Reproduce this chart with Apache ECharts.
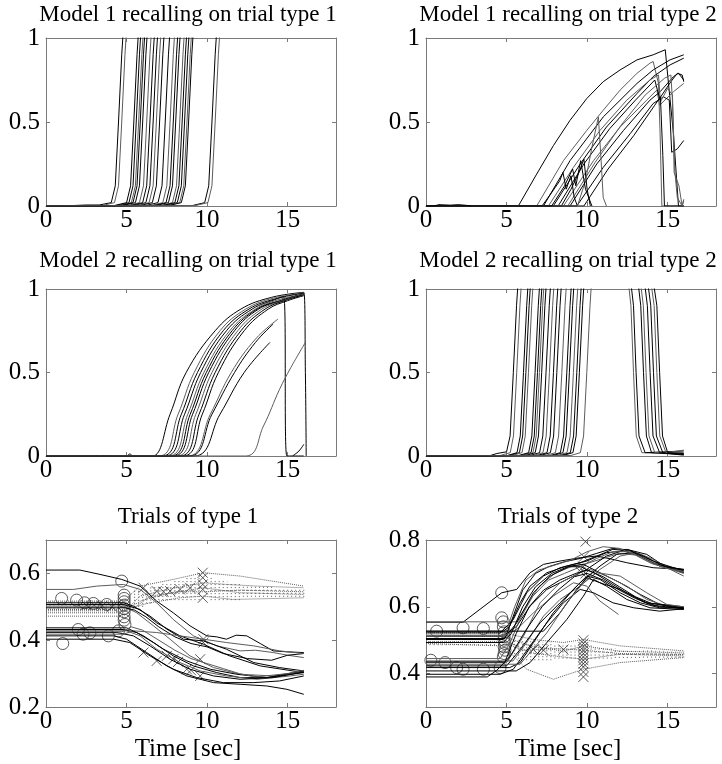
<!DOCTYPE html>
<html><head><meta charset="utf-8">
<script src="https://cdn.jsdelivr.net/npm/echarts@6/dist/echarts.min.js"></script>
<style>html,body{margin:0;padding:0;background:#fff}#c{width:722px;height:764px}</style>
</head><body><div id="c"></div><script>
// ---------- text ----------
const panelTitles = ['Model 1 recalling on trial type 1','Model 1 recalling on trial type 2',
  'Model 2 recalling on trial type 1','Model 2 recalling on trial type 2','Trials of type 1','Trials of type 2'];
const xAxisTitle = 'Time [sec]';
// ---------- ticks ----------
const xTicks = [0,5,10,15];
const yTicksModel = [0,0.5,1];
const yTicksTrials1 = [0.2,0.4,0.6];
const yTicksTrials2 = [0.4,0.6,0.8];

// ---------- Model 1, trial type 1 ----------
const m1t1 = [
 [[0,0],[1.5,0.002],[2.5,0.006],[3.3,0.006],[4.05,0.02],[4.3,0.12],[4.5,0.5],[4.7,0.9],[4.8,1.05]],
 [[0,0],[3.5,0.003],[4.25,0.02],[4.5,0.12],[4.7,0.5],[4.9,0.9],[5.0,1.05]],
 [[0,0],[4.25,0.003],[5.0,0.02],[5.25,0.12],[5.45,0.5],[5.65,0.9],[5.75,1.05]],
 [[0,0],[4.4,0.003],[5.15,0.02],[5.4,0.12],[5.6,0.5],[5.8,0.9],[5.9,1.05]],
 [[0,0],[4.55,0.003],[5.3,0.02],[5.55,0.12],[5.75,0.5],[5.95,0.9],[6.05,1.05]],
 [[0,0],[4.65,0.003],[5.4,0.02],[5.65,0.12],[5.85,0.5],[6.05,0.9],[6.15,1.05]],
 [[0,0],[4.8,0.003],[5.55,0.02],[5.8,0.12],[6.0,0.5],[6.2,0.9],[6.3,1.05]],
 [[0,0],[5.05,0.003],[5.8,0.02],[6.05,0.12],[6.25,0.5],[6.45,0.9],[6.55,1.05]],
 [[0,0],[5.25,0.003],[6.0,0.02],[6.25,0.12],[6.45,0.5],[6.65,0.9],[6.75,1.05]],
 [[0,0],[5.45,0.003],[6.2,0.02],[6.45,0.12],[6.65,0.5],[6.85,0.9],[6.95,1.05]],
 [[0,0],[5.65,0.003],[6.4,0.02],[6.65,0.12],[6.85,0.5],[7.05,0.9],[7.15,1.05]],
 [[0,0],[5.85,0.003],[6.6,0.02],[6.85,0.12],[7.05,0.5],[7.25,0.9],[7.35,1.05]],
 [[0,0],[6.2,0.003],[6.95,0.02],[7.2,0.12],[7.4,0.5],[7.6,0.9],[7.7,1.05]],
 [[0,0],[6.5,0.003],[7.25,0.02],[7.5,0.12],[7.7,0.5],[7.9,0.9],[8.0,1.05]],
 [[0,0],[6.7,0.003],[7.45,0.02],[7.7,0.12],[7.9,0.5],[8.1,0.9],[8.2,1.05]],
 [[0,0],[6.85,0.003],[7.6,0.02],[7.85,0.12],[8.05,0.5],[8.25,0.9],[8.35,1.05]],
 [[0,0],[7.1,0.003],[7.85,0.02],[8.1,0.12],[8.3,0.5],[8.5,0.9],[8.6,1.05]],
 [[0,0],[7.25,0.003],[8.0,0.02],[8.25,0.12],[8.45,0.5],[8.65,0.9],[8.75,1.05]],
 [[0,0],[7.4,0.003],[8.15,0.02],[8.4,0.12],[8.6,0.5],[8.8,0.9],[8.9,1.05]],
 [[0,0],[7.55,0.003],[8.3,0.02],[8.55,0.12],[8.75,0.5],[8.95,0.9],[9.05,1.05]],
 [[0,0],[7.65,0.003],[8.4,0.02],[8.65,0.12],[8.85,0.5],[9.05,0.9],[9.15,1.05]],
 [[0,0],[9.1,0.003],[9.85,0.02],[10.1,0.12],[10.3,0.5],[10.5,0.9],[10.6,1.05]],
 [[0,0],[9.3,0.003],[10.05,0.02],[10.3,0.12],[10.5,0.5],[10.7,0.9],[10.8,1.05]]
];

// ---------- Model 1, trial type 2 ----------
const m1t2 = [
 [[0,0],[5.73,0],[6.87,0.19],[7.91,0.36],[8.94,0.51],[9.98,0.64],[11.0,0.74],[12.05,0.81],[13.1,0.87],[14.1,0.9],[14.85,0.93],[15.05,0.73],[15.36,0.43],[15.67,0],[16,0]],
 [[0,0],[6.87,0],[8.53,0.27],[9.98,0.45],[11.0,0.57],[12.05,0.69],[13.1,0.79],[13.9,0.85],[14.1,0.86],[14.43,0.73],[14.53,0.43],[14.64,0],[16,0]],
 [[0,0],[7.29,0],[8.94,0.27],[11.0,0.53],[13.1,0.73],[14.1,0.81],[15.15,0.87],[16,0.9]],
 [[0,0],[7.9,0],[9.57,0.25],[11.2,0.47],[13.1,0.67],[14.1,0.77],[15.15,0.84],[16,0.88]],
 [[0,0],[8.53,0],[10.4,0.27],[12.05,0.47],[13.7,0.63],[14.33,0.69],[14.5,0.6],[15.36,0.68],[16,0.73]],
 [[0,0],[8.94,0],[10.6,0.25],[12.26,0.45],[13.9,0.63],[14.53,0.68],[15.36,0.77],[15.67,0.79],[16,0.75]],
 [[0,0],[9.36,0],[11.0,0.23],[12.67,0.43],[14.1,0.61],[14.74,0.65],[15.1,0.63],[15.25,0.32],[15.6,0.34],[16.0,0.39]],
 [[0,0],[7.6,0],[9.15,0.23],[10.8,0.45],[12.46,0.63],[13.9,0.75],[14.43,0.78],[14.55,0.62],[15.0,0.7],[15.3,0.66],[15.4,0.2],[15.7,0.12],[15.9,0],[16,0.03]],
 [[0,0],[8.2,0],[9.8,0.25],[11.4,0.46],[13.0,0.63],[14.2,0.75],[14.5,0.64],[15.2,0.74],[15.6,0.79],[15.9,0.78],[16,0.74]],
 [[0,0],[9.8,0],[11.3,0.22],[12.9,0.42],[14.2,0.6],[14.55,0.65],[14.7,0.3],[14.8,0],[16,0]],
 [[0,0],[8.8,0],[10.5,0.26],[12.1,0.48],[13.6,0.66],[14.8,0.76],[15.2,0.78],[15.3,0.62],[15.45,0.2],[15.6,0.05],[15.9,0],[16,0.04]],
 [[0,0],[7.2,0],[7.8,0.08],[8.3,0.15],[8.5,0.2],[8.7,0.1],[9.0,0.18],[9.2,0.05],[9.4,0]],
 [[0,0],[8.4,0],[9.0,0.1],[9.5,0.2],[9.8,0.28],[10.0,0.1],[10.2,0]],
 [[0,0],[9.4,0],[9.9,0.15],[10.3,0.35],[10.7,0.53],[10.85,0.3],[11.0,0.05],[11.2,0]],
 [[0,0],[7.8,0],[8.6,0.12],[9.1,0.22],[9.3,0.12],[9.6,0.27],[9.9,0.1],[10.3,0]],
 [[0,0],[0.5,0],[0.8,0.008],[1.5,0.005],[2.0,0.008],[2.5,0.004],[2.8,0]]
];

// ---------- Model 2, trial type 1 ----------
const m2t1 = [
 [[0,0],[5.0,0],[5.2,0.012],[5.4,0],[6.6,0],[7.7,0.25],[8.7,0.5],[10.5,0.75],[12.1,0.88],[14.0,0.95],[16,0.98],[16.1,0.5],[16.15,0]],
 [[0,0],[7.0,0],[8.2,0.25],[9.2,0.5],[10.8,0.75],[12.4,0.88],[14.1,0.945],[16,0.975]],
 [[0,0],[7.2,0],[8.4,0.25],[9.4,0.5],[11.0,0.75],[12.6,0.88],[14.2,0.94],[16,0.975]],
 [[0,0],[7.4,0],[8.6,0.25],[9.6,0.5],[11.2,0.75],[12.8,0.88],[14.3,0.94],[14.75,0.955],[14.95,0],[16,0]],
 [[0,0],[7.6,0],[8.8,0.25],[9.8,0.5],[11.4,0.75],[13.0,0.88],[14.4,0.935],[16,0.97]],
 [[0,0],[7.75,0],[8.95,0.25],[9.95,0.5],[11.55,0.75],[13.1,0.88],[14.5,0.93],[16,0.97]],
 [[0,0],[7.9,0],[9.1,0.25],[10.1,0.5],[11.7,0.75],[13.2,0.88],[14.6,0.93],[16,0.97]],
 [[0,0],[8.1,0],[9.3,0.25],[10.3,0.5],[11.9,0.75],[13.4,0.88],[14.7,0.93],[16,0.97]],
 [[0,0],[8.3,0],[9.5,0.25],[10.5,0.5],[12.1,0.75],[13.6,0.88],[14.8,0.93],[16,0.965]],
 [[0,0],[8.5,0],[9.7,0.25],[10.7,0.5],[12.3,0.75],[13.8,0.88],[15.0,0.93],[16,0.96]],
 [[0,0],[8.8,0],[10.2,0.25],[11.5,0.5],[13.0,0.7],[14.4,0.82]],
 [[0,0],[9.2,0],[10.8,0.25],[12.3,0.5],[13.9,0.68]],
 [[0,0],[8.9,0],[10.3,0.25],[11.7,0.5],[13.0,0.68],[14.1,0.79]],
 [[0,0],[12.4,0],[13.5,0.18],[14.5,0.4],[15.2,0.53],[16.1,0.68]],
 [[15.3,0],[15.7,0.03],[16,0.07]]
];

// ---------- Model 2, trial type 2 ----------
const m2t2 = [
 [[0,0],[3.9,0],[4.4,0.015],[5.0,0.025],[5.22,0.12],[5.42,0.5],[5.62,0.9],[5.72,1.05],[16,1.05]],
 [[0,0],[4.6,0.003],[5.23,0.02],[5.43,0.12],[5.63,0.5],[5.83,0.9],[5.93,1.05],[12.55,1.05],[12.72,0.9],[12.88,0.5],[13.05,0.12],[13.4,0.02],[16,0.01]],
 [[0,0],[5.05,0.003],[5.65,0.02],[5.85,0.12],[6.05,0.5],[6.25,0.9],[6.35,1.05],[16,1.05]],
 [[0,0],[5.2,0.003],[5.8,0.02],[6.0,0.12],[6.2,0.5],[6.4,0.9],[6.5,1.05],[12.7,1.05],[12.88,0.9],[13.04,0.5],[13.22,0.12],[13.6,0.02],[16,0.03]],
 [[0,0],[5.35,0.003],[5.96,0.02],[6.16,0.12],[6.36,0.5],[6.56,0.9],[6.66,1.05],[16,1.05]],
 [[0,0],[5.75,0.003],[6.37,0.02],[6.57,0.12],[6.77,0.5],[6.97,0.9],[7.07,1.05],[13.15,1.05],[13.33,0.9],[13.5,0.5],[13.68,0.12],[14.0,0.02],[16,0.01]],
 [[0,0],[5.9,0.003],[6.52,0.02],[6.72,0.12],[6.92,0.5],[7.12,0.9],[7.22,1.05],[16,1.05]],
 [[0,0],[6.0,0.003],[6.64,0.02],[6.84,0.12],[7.04,0.5],[7.24,0.9],[7.34,1.05],[13.3,1.05],[13.49,0.9],[13.66,0.5],[13.84,0.12],[14.2,0.02],[16,0.02]],
 [[0,0],[6.2,0.003],[6.78,0.02],[6.98,0.12],[7.18,0.5],[7.38,0.9],[7.48,1.05],[16,1.05]],
 [[0,0],[6.45,0.003],[7.05,0.02],[7.25,0.12],[7.45,0.5],[7.65,0.9],[7.75,1.05],[13.55,1.05],[13.74,0.9],[13.91,0.5],[14.09,0.12],[14.5,0.02],[16,0.005]],
 [[0,0],[6.65,0.003],[7.26,0.02],[7.46,0.12],[7.66,0.5],[7.86,0.9],[7.96,1.05],[16,1.05]],
 [[0,0],[6.9,0.003],[7.51,0.02],[7.71,0.12],[7.91,0.5],[8.11,0.9],[8.21,1.05],[13.75,1.05],[13.95,0.9],[14.12,0.5],[14.3,0.12],[14.7,0.02],[16,0.01]],
 [[0,0],[7.1,0.003],[7.72,0.02],[7.92,0.12],[8.12,0.5],[8.32,0.9],[8.42,1.05],[16,1.05]],
 [[0,0],[7.4,0.003],[8.03,0.02],[8.23,0.12],[8.43,0.5],[8.63,0.9],[8.73,1.05],[13.95,1.05],[14.16,0.9],[14.33,0.5],[14.51,0.12],[14.9,0.02],[16,0.035]],
 [[0,0],[7.7,0.003],[8.34,0.02],[8.54,0.12],[8.74,0.5],[8.94,0.9],[9.04,1.05],[16,1.05]],
 [[0,0],[7.9,0.003],[8.5,0.02],[8.7,0.12],[8.9,0.5],[9.1,0.9],[9.2,1.05],[14.1,1.05],[14.33,0.9],[14.5,0.5],[14.68,0.12],[15.0,0.02],[16,0.015]],
 [[0,0],[8.15,0.003],[8.75,0.02],[8.95,0.12],[9.15,0.5],[9.35,0.9],[9.45,1.05],[16,1.05]],
 [[0,0],[8.35,0.003],[8.96,0.02],[9.16,0.12],[9.36,0.5],[9.56,0.9],[9.66,1.05],[16,1.05]],
 [[0,0],[8.5,0.003],[9.12,0.02],[9.32,0.12],[9.52,0.5],[9.72,0.9],[9.82,1.05],[16,1.05]],
 [[0,0],[9.0,0.003],[9.58,0.02],[9.78,0.12],[9.98,0.5],[10.18,0.9],[10.28,1.05],[16,1.05]]
];

// ---------- Trials of type 1 ----------
const t1Solid = [
 [[0,0.61],[2.1,0.61],[3.35,0.597],[4.7,0.582],[5.84,0.562],[6.87,0.517],[7.9,0.482],[8.94,0.443],[9.98,0.413],[10.6,0.41],[11.2,0.403],[11.8,0.415],[12.46,0.413],[13.3,0.39],[14.1,0.368],[15,0.365],[16,0.363]],
 [[0,0.552],[1.7,0.552],[3.15,0.562],[4.8,0.567],[5.84,0.552],[6.87,0.512],[7.9,0.462],[9.15,0.413],[10.6,0.383],[12.05,0.368],[13,0.37],[14.1,0.363],[15,0.355],[16,0.348]],
 [[0,0.512],[4.8,0.512],[5.42,0.502],[6.46,0.472],[7.5,0.433],[8.53,0.403],[9.77,0.398],[11.2,0.373],[12.9,0.333],[14.5,0.318],[16,0.308]],
 [[0,0.507],[4.8,0.507],[5.84,0.492],[6.87,0.452],[8.32,0.413],[9.77,0.388],[11.4,0.353],[13.3,0.323],[16,0.303]],
 [[0,0.502],[4.8,0.502],[5.63,0.482],[6.67,0.443],[7.7,0.403],[8.94,0.353],[10.4,0.318],[12.05,0.298],[14.1,0.293],[16,0.308]],
 [[0,0.497],[4.9,0.497],[5.5,0.49],[6.2,0.47],[7.0,0.44],[8.0,0.41],[9.0,0.39],[10.0,0.38],[11.0,0.36],[12.5,0.345],[14,0.34],[15,0.355],[16,0.36]],
 [[0,0.432],[4.8,0.432],[5.63,0.423],[6.67,0.393],[7.9,0.353],[9.15,0.323],[10.6,0.303],[12.05,0.288],[13.7,0.288],[16,0.303]],
 [[0,0.428],[5.0,0.428],[5.84,0.413],[6.87,0.373],[8.32,0.333],[9.57,0.308],[11.2,0.293],[13.1,0.283],[15.15,0.293],[16,0.298]],
 [[0,0.423],[4.4,0.423],[5.42,0.413],[6.46,0.383],[7.7,0.343],[8.94,0.313],[10.4,0.293],[12.05,0.283],[14.1,0.288],[16,0.305]],
 [[0,0.413],[4.2,0.413],[5.0,0.403],[6.25,0.363],[7.5,0.323],[8.74,0.293],[10.4,0.273],[12.05,0.268],[13.7,0.263],[14.95,0.253],[16,0.238]],
 [[0,0.418],[4.8,0.418],[5.42,0.428],[6.87,0.423],[8.32,0.413],[9.77,0.403],[11.2,0.393],[12.9,0.383],[14.5,0.368],[16,0.36]],
 [[0,0.403],[4.2,0.403],[5.2,0.393],[6.46,0.353],[7.9,0.313],[9.36,0.288],[11.0,0.273],[12.9,0.273],[14.5,0.278],[16,0.293]],
 [[0,0.437],[5.0,0.437],[6.05,0.413],[7.29,0.373],[8.74,0.338],[10.2,0.313],[11.84,0.298],[13.7,0.288],[16,0.308]],
 [[0,0.425],[4.7,0.425],[5.3,0.44],[6.0,0.43],[7.0,0.4],[8.0,0.37],[9.0,0.345],[10.0,0.33],[11,0.315],[12,0.3],[13,0.29],[14,0.295],[15,0.3],[16,0.31]]
];
const t1Dotted = [
 [[0,0.482],[4.8,0.482],[5.84,0.532],[7.5,0.552],[9.77,0.572],[11.2,0.567],[13.1,0.562],[16,0.557]],
 [[0,0.472],[4.8,0.472],[6.46,0.532],[7.9,0.542],[9.77,0.557],[12.05,0.542],[16,0.537]],
 [[0,0.492],[4.8,0.492],[6.46,0.512],[8.32,0.527],[9.77,0.532],[11.6,0.522],[16,0.527]],
 [[0,0.517],[4.8,0.517],[5.84,0.562],[7.9,0.582],[9.77,0.602],[12.05,0.592],[16,0.562]],
 [[0,0.488],[4.8,0.488],[6.0,0.52],[8.0,0.545],[9.77,0.545],[12,0.55],[16,0.545]]
];
const t1Hatch = [
 [0.25,0.495,0.52],[0.5,0.495,0.52],[0.75,0.495,0.52],[1.0,0.495,0.52],[1.25,0.495,0.52],[1.5,0.495,0.52],[1.75,0.495,0.52],
 [2.0,0.495,0.52],[2.25,0.495,0.52],[2.5,0.495,0.52],[2.75,0.495,0.52],[3.0,0.495,0.52],[3.25,0.495,0.52],[3.5,0.495,0.52],
 [3.75,0.495,0.52],[4.0,0.495,0.52],[4.25,0.495,0.52],[4.5,0.495,0.52],
 [5.5,0.5,0.55],[5.75,0.5,0.55],[6.0,0.5,0.55],[6.25,0.51,0.55],[6.5,0.51,0.56],[6.75,0.52,0.56],[7.0,0.52,0.56],
 [7.25,0.52,0.57],[7.5,0.52,0.57],[7.75,0.52,0.57],[8.0,0.52,0.58],[8.25,0.52,0.58],[8.5,0.52,0.58],[8.75,0.52,0.59],
 [9.0,0.52,0.59],[9.25,0.52,0.59],[9.5,0.52,0.6],[10.25,0.52,0.59],[10.5,0.52,0.58],[10.75,0.52,0.58],[11.0,0.52,0.58],
 [11.25,0.52,0.575],[11.5,0.52,0.57],[11.75,0.52,0.57],[12.0,0.52,0.57],[12.25,0.53,0.565],[12.5,0.53,0.565],
 [12.75,0.53,0.56],[13.0,0.53,0.56],[13.25,0.53,0.56],[13.5,0.53,0.56],[13.75,0.53,0.56],[14.0,0.53,0.56],
 [14.25,0.53,0.555],[14.5,0.53,0.555],[14.75,0.53,0.555],[15.0,0.53,0.555],[15.25,0.53,0.555],[15.5,0.53,0.555],
 [15.75,0.53,0.555],[16.0,0.53,0.555]
];
const t1Circles = [
 [0.97,0.525],[1.9,0.52],[2.4,0.512],[2.94,0.51],[3.77,0.507],[4.7,0.577],[4.85,0.535],[4.85,0.525],[4.85,0.515],
 [4.85,0.505],[4.85,0.495],[4.85,0.485],[4.85,0.47],[4.85,0.46],[1.04,0.39],[2.0,0.432],[2.3,0.418],[2.73,0.422],
 [3.87,0.413],[4.5,0.428],[4.9,0.447]
];
const t1Crosses = [
 [2.5,0.505],[3.0,0.505],[3.5,0.503],[4.1,0.5],
 [6.05,0.557],[6.87,0.547],[7.3,0.545],[7.7,0.547],[8.32,0.552],[8.94,0.557],[9.73,0.602],[9.73,0.587],[9.73,0.567],
 [9.73,0.552],[9.73,0.527],[6.05,0.363],[6.87,0.338],[7.5,0.353],[7.9,0.343],[8.74,0.313],[9.57,0.293],[9.77,0.403],
 [9.77,0.393],[9.57,0.343],[8.2,0.335],[9.0,0.31]
];

// ---------- Trials of type 2 ----------
const t2Solid = [
 [[0,0.554],[2.3,0.554],[4.7,0.642],[5.63,0.652],[6.46,0.702],[7.29,0.727],[8.32,0.737],[9.57,0.747],[10.6,0.752],[11.6,0.742],[12.46,0.732],[14.1,0.717],[16,0.712]],
 [[0,0.555],[5.6,0.555],[6.2,0.6],[7,0.66],[8,0.7],[9,0.72],[10,0.73],[11,0.745],[12,0.76],[13,0.755],[14,0.73],[15,0.715],[16,0.71]],
 [[0,0.527],[4.8,0.527],[5.2,0.542],[5.84,0.612],[6.46,0.662],[7.5,0.702],[8.74,0.722],[9.98,0.737],[11.2,0.762],[12.26,0.767],[13.3,0.752],[14.5,0.722],[16,0.712]],
 [[0,0.512],[4.8,0.512],[5.63,0.542],[6.46,0.602],[7.5,0.652],[8.74,0.682],[9.98,0.712],[11.2,0.752],[12.46,0.772],[13.7,0.757],[14.95,0.717],[16,0.704]],
 [[0,0.438],[5.4,0.438],[6.25,0.493],[7.29,0.572],[8.32,0.622],[9.57,0.662],[10.8,0.712],[12.05,0.752],[13.1,0.762],[14.1,0.742],[15.36,0.707],[16,0.692]],
 [[0,0.423],[5.0,0.423],[5.84,0.472],[7.08,0.552],[8.32,0.612],[9.57,0.672],[10.8,0.722],[11.84,0.757],[12.88,0.762],[14.1,0.732],[16,0.702]],
 [[0,0.522],[4.6,0.522],[5.42,0.562],[6.25,0.642],[7.29,0.692],[8.32,0.717],[9.57,0.732],[10.6,0.752],[11.6,0.772],[12.67,0.767],[14.1,0.737],[16,0.707]],
 [[0,0.445],[4.6,0.445],[5.2,0.49],[5.8,0.56],[6.6,0.63],[7.6,0.68],[8.6,0.7],[9.6,0.72],[10.6,0.745],[11.6,0.765],[12.6,0.765],[13.6,0.745],[14.6,0.72],[16,0.7]],
 [[0,0.505],[4.9,0.505],[5.4,0.57],[6.0,0.65],[6.8,0.7],[7.6,0.72],[8.6,0.735],[9.6,0.745],[10.6,0.76],[11.6,0.775],[12.6,0.77],[13.6,0.75],[14.6,0.725],[16,0.71]],
 [[0,0.502],[4.8,0.502],[5.63,0.552],[6.67,0.642],[7.7,0.692],[8.94,0.722],[9.77,0.727],[10.8,0.702],[12.05,0.672],[13.3,0.637],[14.5,0.607],[16,0.597]],
 [[0,0.433],[5.0,0.433],[6.05,0.512],[7.08,0.612],[8.32,0.672],[9.57,0.702],[10.2,0.712],[11.2,0.692],[12.46,0.662],[13.7,0.622],[14.95,0.602],[16,0.594]],
 [[0,0.418],[5.2,0.418],[5.84,0.433],[6.67,0.493],[7.9,0.582],[9.15,0.652],[9.98,0.692],[10.8,0.682],[12.05,0.642],[13.3,0.612],[14.5,0.597],[16,0.597]],
 [[0,0.408],[5.6,0.408],[6.46,0.433],[7.5,0.493],[8.74,0.562],[9.77,0.632],[10.4,0.682],[11.2,0.662],[12.46,0.622],[13.9,0.597],[16,0.592]],
 [[0,0.512],[4.8,0.512],[5.63,0.532],[6.67,0.582],[7.9,0.632],[9.15,0.672],[9.98,0.662],[10.8,0.617],[11.95,0.577]],
 [[0,0.398],[4.6,0.398],[5.42,0.413],[6.46,0.483],[7.5,0.552],[8.53,0.612],[9.57,0.652],[10.4,0.642],[11.6,0.612],[12.9,0.597],[14.5,0.587],[16,0.594]],
 [[0,0.527],[7.29,0.527],[8.32,0.582],[9.36,0.652],[9.98,0.687],[10.8,0.672],[12.05,0.652],[13.7,0.612],[16,0.6]],
 [[0,0.428],[5.1,0.428],[5.84,0.428],[7.5,0.522],[8.74,0.612],[9.77,0.672],[10.6,0.702],[12.05,0.692],[13.7,0.642],[14.95,0.607],[16,0.6]],
 [[0,0.493],[4.8,0.493],[5.3,0.52],[6.0,0.6],[6.8,0.66],[7.8,0.7],[8.8,0.72],[9.6,0.72],[10.5,0.7],[11.5,0.67],[12.5,0.64],[13.5,0.615],[14.5,0.6],[16,0.596]],
 [[0,0.39],[3.8,0.39],[4.4,0.41],[5.2,0.45],[6.2,0.53],[7.2,0.6],[8.2,0.65],[9.2,0.69],[10,0.7],[11,0.68],[12,0.65],[13,0.625],[14,0.605],[16,0.594]],
 [[0,0.515],[4.9,0.515],[5.5,0.6],[6.2,0.68],[7.0,0.71],[8.0,0.725],[9.0,0.74],[10.0,0.765],[11.0,0.78],[12.0,0.775],[13.0,0.755],[14.0,0.73],[15.0,0.715],[16,0.705]],
 [[0,0.435],[4.9,0.435],[5.6,0.52],[6.4,0.6],[7.3,0.65],[8.3,0.68],[9.3,0.7],[10.0,0.71],[11.0,0.69],[12.0,0.66],[13.0,0.63],[14.0,0.61],[16,0.595]]
];
const t2Dotted = [
 [[0,0.512],[4.8,0.512],[6.46,0.483],[8.53,0.467],[9.77,0.483],[12.05,0.467],[16,0.462]],
 [[0,0.502],[4.8,0.502],[6.46,0.463],[7.9,0.453],[9.77,0.443],[12.05,0.458],[16,0.453]],
 [[0,0.49],[4.8,0.483],[6.25,0.413],[7.9,0.383],[9.77,0.413],[12.05,0.433],[16,0.448]],
 [[0,0.522],[4.8,0.522],[6.67,0.502],[8.53,0.493],[9.77,0.502],[12.05,0.483],[16,0.468]],
 [[0,0.495],[4.8,0.495],[6.0,0.47],[8.0,0.475],[9.8,0.47],[12,0.46],[16,0.457]]
];
const t2Hatch = [
 [0.25,0.485,0.53],[0.5,0.485,0.53],[0.75,0.485,0.53],[1.0,0.485,0.53],[1.25,0.485,0.53],[1.5,0.485,0.53],[1.75,0.485,0.53],
 [2.0,0.485,0.53],[2.25,0.485,0.53],[2.5,0.485,0.53],[2.75,0.485,0.53],[3.0,0.485,0.53],[3.25,0.485,0.53],[3.5,0.485,0.53],
 [3.75,0.485,0.53],[4.0,0.485,0.53],[4.25,0.485,0.53],[4.5,0.485,0.53],
 [5.5,0.45,0.5],[5.75,0.445,0.5],[6.0,0.44,0.5],[6.25,0.44,0.5],[6.5,0.44,0.5],[6.75,0.44,0.5],[7.0,0.44,0.5],
 [7.25,0.44,0.495],[7.5,0.44,0.495],[7.75,0.44,0.495],[8.0,0.445,0.49],[8.25,0.445,0.49],[8.5,0.445,0.49],
 [8.75,0.445,0.49],[9.0,0.445,0.49],[9.25,0.445,0.49],[9.5,0.44,0.495],[9.75,0.42,0.5],[10.0,0.44,0.49],
 [10.25,0.445,0.485],[10.5,0.445,0.48],[10.75,0.445,0.48],[11.0,0.445,0.48],[11.25,0.445,0.478],[11.5,0.445,0.475],
 [11.75,0.447,0.475],[12.0,0.447,0.473],[12.25,0.447,0.472],[12.5,0.447,0.472],[12.75,0.447,0.471],[13.0,0.447,0.47],
 [13.25,0.447,0.47],[13.5,0.448,0.47],[13.75,0.448,0.469],[14.0,0.448,0.469],[14.25,0.448,0.468],[14.5,0.448,0.468],
 [14.75,0.448,0.468],[15.0,0.448,0.467],[15.25,0.448,0.467],[15.5,0.448,0.467],[15.75,0.448,0.467],[16.0,0.448,0.467]
];
const t2Circles = [
 [0.66,0.527],[2.3,0.537],[3.56,0.535],[4.7,0.642],[4.7,0.567],[2.3,0.413],[3.56,0.413],[4.6,0.418],[1.18,0.433],
 [1.9,0.418],[4.8,0.555],[4.8,0.54],[4.85,0.525],[4.85,0.51],[4.85,0.5],[4.9,0.49],[4.85,0.48],[4.9,0.47],
 [4.85,0.46],[4.8,0.45],[0.3,0.44]
];
const t2Crosses = [
 [9.77,0.5],[9.77,0.49],[9.77,0.48],[9.77,0.47],[9.77,0.46],[9.77,0.45],[9.77,0.44],[9.77,0.43],[9.77,0.42],
 [9.77,0.405],[9.77,0.39],[8.53,0.472],[6.67,0.472],[7.3,0.47],[9.9,0.795],[9.8,0.75],[9.75,0.72],[9.9,0.7],
 [10.1,0.69],[9.6,0.705]
];

// ---------- layout / styling ----------
const FONT = '"Liberation Serif", "Times New Roman", serif';
const GRAY = '#5c5c5c';
const AXIS = '#7a7a7a';
const grids = [
 {left:46, top:38, width:290, height:168},
 {left:426, top:38, width:290, height:168},
 {left:46, top:289, width:290, height:167},
 {left:426, top:289, width:290, height:167},
 {left:46, top:540, width:290, height:167},
 {left:426, top:540, width:290, height:167}
];
const yRange = [[0,1],[0,1],[0,1],[0,1],[0.2,0.7],[0.3,0.8]];
const yTicks = [yTicksModel,yTicksModel,yTicksModel,yTicksModel,yTicksTrials1,yTicksTrials2];

const xAxes = [], yAxes = [];
grids.forEach((g,i) => {
  const common = {type:'value', gridIndex:i, splitLine:{show:false},
    axisLine:{show:true, onZero:false, lineStyle:{color:AXIS, width:1}}};
  xAxes.push(Object.assign({}, common, {position:'bottom', min:0, max:18,
    axisTick:{inside:true, length:4, customValues:xTicks, lineStyle:{color:AXIS}},
    axisLabel:{customValues:xTicks, color:'#000', fontFamily:FONT, fontSize:25, margin:2}}));
  xAxes.push(Object.assign({}, common, {position:'top', min:0, max:18,
    axisTick:{inside:true, length:4, customValues:xTicks, lineStyle:{color:AXIS}},
    axisLabel:{show:false}}));
  yAxes.push(Object.assign({}, common, {position:'left', min:yRange[i][0], max:yRange[i][1],
    axisTick:{inside:true, length:4, customValues:yTicks[i], lineStyle:{color:AXIS}},
    axisLabel:{customValues:yTicks[i], color:'#000', fontFamily:FONT, fontSize:25, margin:6}}));
  yAxes.push(Object.assign({}, common, {position:'right', min:yRange[i][0], max:yRange[i][1],
    axisTick:{inside:true, length:4, customValues:yTicks[i], lineStyle:{color:AXIS}},
    axisLabel:{show:false}}));
});

const series = [];
function addLines(gi, curves, opt) {
  curves.forEach((c,k) => {
    const s = {type:'line', xAxisIndex:2*gi, yAxisIndex:2*gi, data:c, symbol:'none', showSymbol:false,
      silent:true, animation:false, clip:true,
      lineStyle:{width:1, color:(k%3===1)?GRAY:'#000'}};
    if (opt) Object.keys(opt).forEach(key => { s[key] = opt[key]; });
    series.push(s);
  });
}
addLines(0, m1t1);
addLines(1, m1t2);
addLines(2, m2t1, {smooth:0.4});
addLines(3, m2t2);
addLines(4, t1Dotted, {lineStyle:{width:1, color:GRAY, type:'dotted'}});
addLines(4, t1Solid);
addLines(5, t2Dotted, {lineStyle:{width:1, color:GRAY, type:'dotted'}});
addLines(5, t2Solid);

function hatch(gi, data) {
  series.push({type:'custom', xAxisIndex:2*gi, yAxisIndex:2*gi, data:data, silent:true, animation:false,
    encode:{x:0, y:[1,2]},
    renderItem:function(params, api){
      const a = api.coord([api.value(0), api.value(1)]);
      const b = api.coord([api.value(0), api.value(2)]);
      return {type:'line', shape:{x1:a[0], y1:a[1], x2:b[0], y2:b[1]},
        style:{stroke:'#555', lineWidth:1, lineDash:[1,2]}};
    }});
}
hatch(4, t1Hatch);
hatch(5, t2Hatch);

const CROSS = 'path://M0,0L10,10M10,0L0,10';
function markers(gi, data, symbol, size) {
  series.push({type:'scatter', xAxisIndex:2*gi, yAxisIndex:2*gi, data:data, symbol:symbol, symbolSize:size,
    silent:true, animation:false,
    itemStyle:{color:'rgba(0,0,0,0)', borderColor:'#333', borderWidth:1}});
}
markers(4, t1Circles, 'circle', 12);
markers(4, t1Crosses, CROSS, 10);
markers(5, t2Circles, 'circle', 12);
markers(5, t2Crosses, CROSS, 10);

// ---------- titles ----------
const titleY = [15,15,261,261,517,517];
const graphics = panelTitles.map((t,i) => ({type:'text', x:grids[i].left+142, y:titleY[i],
  style:{text:t, textAlign:'center', textVerticalAlign:'middle', fill:'#000', font:'23px "Liberation Serif"'}}));
[4,5].forEach(i => graphics.push({type:'text', x:grids[i].left+142, y:749,
  style:{text:xAxisTitle, textAlign:'center', textVerticalAlign:'middle', fill:'#000', font:'25px "Liberation Serif"'}}));

const chart = echarts.init(document.getElementById('c'), null, {renderer:'canvas'});
chart.setOption({
  animation:false, backgroundColor:'#fff',
  grid:grids, xAxis:xAxes, yAxis:yAxes, series:series, graphic:graphics
});
</script></body></html>
